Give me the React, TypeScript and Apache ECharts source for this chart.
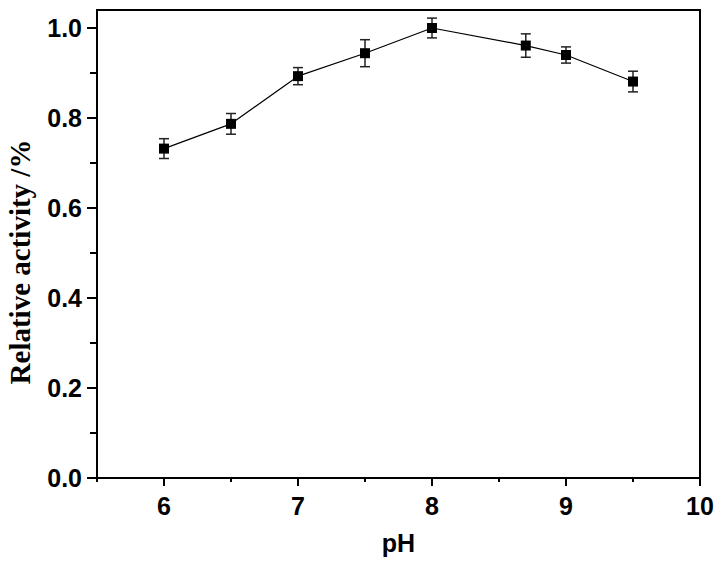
import React, { useEffect, useRef } from "react";
import * as echarts from "echarts";

const phValues = [6, 6.5, 7, 7.5, 8, 8.7, 9, 9.5];
const activity = [0.732, 0.787, 0.893, 0.944, 1.0, 0.961, 0.94, 0.881];
const errors = [0.022, 0.023, 0.019, 0.03, 0.022, 0.026, 0.018, 0.023];
const xMajorTicks = [6, 7, 8, 9, 10];
const xMinorTicks = [5.5, 6.5, 7.5, 8.5, 9.5];
const yMajorTicks = [0, 0.2, 0.4, 0.6, 0.8, 1.0];
const yMinorTicks = [0.1, 0.3, 0.5, 0.7, 0.9];
const yTitle = "Relative activity /%";
const xTitle = "pH";

export default function App() {
  const ref = useRef<HTMLDivElement>(null);
  useEffect(() => {
    const chart = echarts.init(ref.current!, null, { renderer: "svg" });
    const lineData = phValues.map((x, i) => [x, activity[i]]);
    const errData = phValues.map((x, i) => [x, activity[i] - errors[i], activity[i] + errors[i]]);
    const axisLineStyle = { color: "#000", width: 2 };
    const labelFont = {
      fontFamily: "Liberation Sans, Arial, sans-serif",
      fontWeight: "bold" as const,
      fontSize: 25,
      color: "#000",
    };
    chart.setOption({
      animation: false,
      grid: {
        left: 97,
        right: 23,
        top: 10,
        bottom: 83,
        containLabel: false,
        outerBoundsMode: "none",
        show: true,
        borderColor: "#000",
        borderWidth: 2,
        backgroundColor: "transparent",
      },
      graphic: [
        {
          type: "text",
          x: 20,
          y: 262,
          rotation: Math.PI / 2,
          style: {
            text: yTitle,
            fontFamily: "Liberation Serif, Times New Roman, serif",
            fontWeight: "bold",
            fontSize: 29,
            fill: "#000",
            textAlign: "center",
            textVerticalAlign: "middle",
          },
        },
      ],
      xAxis: [
        {
          type: "value",
          min: 5.5,
          max: 10,
          position: "bottom",
          name: xTitle,
          nameLocation: "middle",
          nameGap: 52,
          nameTextStyle: { ...labelFont, fontSize: 25 },
          axisLine: { show: true, lineStyle: axisLineStyle },
          axisTick: { show: true, length: 8, lineStyle: { width: 2, color: "#000" }, customValues: xMajorTicks },
          axisLabel: { ...labelFont, margin: 15, customValues: xMajorTicks, formatter: (v: number) => String(v) },
          splitLine: { show: false },
        },
        {
          type: "value",
          min: 5.5,
          max: 10,
          position: "bottom",
          axisLine: { show: false },
          axisTick: { show: true, length: 4, lineStyle: { width: 2, color: "#000" }, customValues: xMinorTicks },
          axisLabel: { show: false },
          splitLine: { show: false },
        },
      ],
      yAxis: [
        {
          type: "value",
          min: 0,
          max: 1.04,
          position: "left",
          axisLine: { show: true, lineStyle: axisLineStyle },
          axisTick: { show: true, length: 10, lineStyle: { width: 2, color: "#000" }, customValues: yMajorTicks },
          axisLabel: { ...labelFont, margin: 15, customValues: yMajorTicks, formatter: (v: number) => v.toFixed(1) },
          splitLine: { show: false },
        },
        {
          type: "value",
          min: 0,
          max: 1.04,
          position: "left",
          axisLine: { show: false },
          axisTick: { show: true, length: 7, lineStyle: { width: 2, color: "#000" }, customValues: yMinorTicks },
          axisLabel: { show: false },
          splitLine: { show: false },
        },
      ],
      series: [
        {
          type: "custom",
          xAxisIndex: 0,
          yAxisIndex: 0,
          data: errData,
          z: 3,
          renderItem: (params: any, api: any) => {
            const x = api.value(0);
            const lo = api.coord([x, api.value(1)]);
            const hi = api.coord([x, api.value(2)]);
            const hw = 5;
            const style = { stroke: "#222", lineWidth: 1.5 };
            return {
              type: "group",
              children: [
                { type: "line", shape: { x1: lo[0], y1: lo[1], x2: hi[0], y2: hi[1] }, style },
                { type: "line", shape: { x1: lo[0] - hw, y1: lo[1], x2: lo[0] + hw, y2: lo[1] }, style },
                { type: "line", shape: { x1: hi[0] - hw, y1: hi[1], x2: hi[0] + hw, y2: hi[1] }, style },
              ],
            };
          },
        },
        {
          type: "line",
          xAxisIndex: 0,
          yAxisIndex: 0,
          data: lineData,
          z: 4,
          symbol: "rect",
          symbolSize: 10,
          showAllSymbol: true,
          lineStyle: { color: "#000", width: 1.2 },
          itemStyle: { color: "#000" },
        },
      ],
    });
    return () => chart.dispose();
  }, []);
  return (
    <div
      ref={ref}
      style={{ position: "absolute", left: 0, top: 0, width: 723, height: 561 }}
    />
  );
}
